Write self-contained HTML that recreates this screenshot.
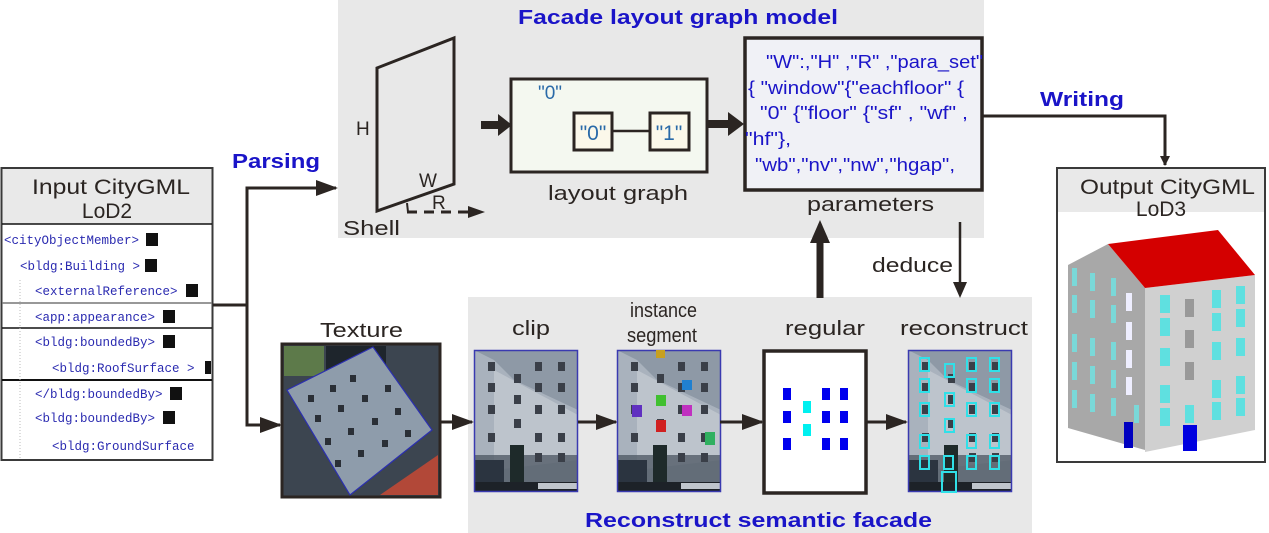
<!DOCTYPE html>
<html><head><meta charset="utf-8"><style>
html,body{margin:0;padding:0;background:#fff;}
svg{display:block;font-family:"Liberation Sans",sans-serif;}
.code{font-family:"Liberation Mono",monospace;font-size:12.5px;fill:#2a2ab0;}
.lf{fill:#111;}
</style></head><body>
<svg width="1269" height="533" viewBox="0 0 1269 533" xmlns="http://www.w3.org/2000/svg">
<defs>
<marker id="ah" markerWidth="10" markerHeight="10" refX="9" refY="5" orient="auto" markerUnits="userSpaceOnUse">
<path d="M0,0 L10,5 L0,10 Z" fill="#2b2522"/></marker>
<marker id="ahL" markerWidth="22" markerHeight="16" refX="20" refY="8" orient="auto" markerUnits="userSpaceOnUse">
<path d="M0,0 L22,8 L0,16 Z" fill="#2b2522"/></marker>
<g id="fac">
<rect x="0" y="0" width="104" height="142" fill="#a9b2bd"/>
<path d="M0,0 L104,0 L104,60 L40,30 L20,10 Z" fill="#8e99a6"/>
<path d="M20,20 L104,65 L104,110 L20,120Z" fill="#c6ccd3" opacity="0.7"/>
<rect x="0" y="105" width="104" height="37" fill="#4c5562" opacity="0.75"/>
<rect x="0" y="110" width="30" height="32" fill="#2b3440"/>
<rect x="36" y="95" width="14" height="40" fill="#1e2a2a"/>
<rect x="0" y="132" width="104" height="10" fill="#1d2228"/>
<rect x="64" y="133" width="40" height="6" fill="#bfc5cc"/>
<g fill="#3a3f48">
<rect x="14" y="12" width="7" height="9"/><rect x="61" y="12" width="7" height="9"/><rect x="84" y="12" width="7" height="9"/>
<rect x="40" y="24" width="7" height="9"/>
<rect x="14" y="33" width="7" height="9"/><rect x="61" y="33" width="7" height="9"/><rect x="84" y="33" width="7" height="9"/>
<rect x="40" y="45" width="7" height="9"/>
<rect x="14" y="55" width="7" height="9"/><rect x="61" y="55" width="7" height="9"/><rect x="84" y="55" width="7" height="9"/>
<rect x="40" y="69" width="7" height="9"/>
<rect x="14" y="83" width="7" height="9"/><rect x="61" y="83" width="7" height="9"/><rect x="84" y="83" width="7" height="9"/>
<rect x="61" y="103" width="7" height="9"/><rect x="84" y="103" width="7" height="9"/>
</g>
<rect x="0.5" y="0.5" width="103" height="141" fill="none" stroke="#3a3ab0" stroke-width="1.5"/>
</g>
</defs>

<rect x="338" y="0" width="646" height="238" fill="#e8e8e8"/>
<rect x="468" y="297" width="564" height="236" fill="#e8e8e8"/>

<text x="518" y="24" textLength="320" lengthAdjust="spacingAndGlyphs" font-size="20" font-weight="bold" fill="#1a14c8">Facade layout graph model</text>
<text x="585" y="527" textLength="347" lengthAdjust="spacingAndGlyphs" font-size="20" font-weight="bold" fill="#1a14c8">Reconstruct semantic facade</text>

<path d="M377,68 L454,38 L454,184 L377,211 Z" fill="none" stroke="#2b2522" stroke-width="3"/>
<text x="356" y="135" font-size="19" fill="#2b2522">H</text>
<text x="419" y="187" font-size="19" fill="#2b2522">W</text>
<text x="432" y="209" font-size="19" fill="#2b2522">R</text>
<line x1="407" y1="212" x2="470" y2="212" stroke="#2b2522" stroke-width="3" stroke-dasharray="10,7"/>
<path d="M468,206 L485,212 L468,218 Z" fill="#2b2522"/>
<path d="M407,203 L408,212" stroke="#2b2522" stroke-width="2"/>
<text x="343" y="235" textLength="57" lengthAdjust="spacingAndGlyphs" font-size="20" fill="#2b2522">Shell</text>

<line x1="481" y1="125" x2="500" y2="125" stroke="#2b2522" stroke-width="8"/>
<path d="M498,114 L512,125 L498,136 Z" fill="#2b2522"/>
<rect x="511" y="79" width="196" height="93" fill="#f4f8f0" stroke="#2b2522" stroke-width="3"/>
<text x="538" y="99" font-size="19" fill="#2a6aa8">"0"</text>
<rect x="574" y="113" width="38" height="37" fill="#fbf8ea" stroke="#2b2522" stroke-width="3"/>
<rect x="650" y="113" width="39" height="37" fill="#fbf8ea" stroke="#2b2522" stroke-width="3"/>
<line x1="612" y1="131" x2="650" y2="131" stroke="#2b2522" stroke-width="2.5"/>
<text x="593" y="140" text-anchor="middle" font-size="21" fill="#2a6aa8">"0"</text>
<text x="669" y="140" text-anchor="middle" font-size="21" fill="#2a6aa8">"1"</text>
<text x="548" y="200" textLength="140" lengthAdjust="spacingAndGlyphs" font-size="20" fill="#2b2522">layout graph</text>
<line x1="706" y1="124" x2="730" y2="124" stroke="#2b2522" stroke-width="8"/>
<path d="M728,112 L744,124 L728,136 Z" fill="#2b2522"/>

<rect x="745" y="38" width="237" height="152" fill="#f0f1f6" stroke="#2b2522" stroke-width="3.5"/>
<g font-size="18" fill="#1a14c8" lengthAdjust="spacingAndGlyphs">
<text x="766" y="68" textLength="217" lengthAdjust="spacingAndGlyphs">"W":,"H" ,"R" ,"para_set"</text>
<text x="748" y="94" textLength="216" lengthAdjust="spacingAndGlyphs">{ "window"{"eachfloor" {</text>
<text x="760" y="119" textLength="208" lengthAdjust="spacingAndGlyphs">"0" {"floor" {"sf" , "wf" ,</text>
<text x="745" y="145" textLength="46" lengthAdjust="spacingAndGlyphs">"hf"},</text>
<text x="755" y="171" textLength="200" lengthAdjust="spacingAndGlyphs">"wb","nv","nw","hgap",</text>
</g>
<text x="807" y="211" textLength="127" lengthAdjust="spacingAndGlyphs" font-size="20" fill="#2b2522">parameters</text>

<polyline points="982,116 1165,116 1165,165" fill="none" stroke="#2b2522" stroke-width="3" marker-end="url(#ah)"/>
<text x="1040" y="106" textLength="84" lengthAdjust="spacingAndGlyphs" font-size="20" font-weight="bold" fill="#1a14c8">Writing</text>

<line x1="820" y1="298" x2="820" y2="240" stroke="#2b2522" stroke-width="7"/>
<path d="M810,243 L820,220 L830,243 Z" fill="#2b2522"/>
<line x1="960" y1="222" x2="960" y2="288" stroke="#2b2522" stroke-width="2.5"/>
<path d="M953,282 L960,298 L967,282 Z" fill="#2b2522"/>
<text x="872" y="272" textLength="81" lengthAdjust="spacingAndGlyphs" font-size="20" fill="#2b2522">deduce</text>

<rect x="1.5" y="168" width="211" height="292" fill="#fff" stroke="#3a3a3a" stroke-width="2"/>
<rect x="2.5" y="169" width="209" height="55" fill="#e9e9e9"/>
<text x="32" y="194" textLength="158" lengthAdjust="spacingAndGlyphs" font-size="21" fill="#2b2522">Input CityGML</text>
<text x="107" y="218" text-anchor="middle" font-size="21" fill="#2b2522">LoD2</text>
<line x1="2" y1="224" x2="212" y2="224" stroke="#111" stroke-width="1.5"/>
<line x1="2" y1="303" x2="212" y2="303" stroke="#777" stroke-width="1.5"/>
<line x1="2" y1="328" x2="212" y2="328" stroke="#111" stroke-width="1.5"/>
<line x1="2" y1="380" x2="212" y2="380" stroke="#111" stroke-width="2"/>
<line x1="20" y1="280" x2="20" y2="460" stroke="#bbb" stroke-dasharray="1,2"/>
<g class="code">
<text x="4" y="244">&lt;cityObjectMember&gt;</text>
<text x="20" y="270">&lt;bldg:Building &gt;</text>
<text x="35" y="295">&lt;externalReference&gt;</text>
<text x="35" y="321">&lt;app:appearance&gt;</text>
<text x="35" y="346">&lt;bldg:boundedBy&gt;</text>
<text x="52" y="372">&lt;bldg:RoofSurface &gt;</text>
<text x="35" y="398">&lt;/bldg:boundedBy&gt;</text>
<text x="35" y="422">&lt;bldg:boundedBy&gt;</text>
<text x="52" y="450">&lt;bldg:GroundSurface</text>
</g>
<g class="lf">
<rect x="146" y="233" width="12" height="13"/><rect x="145" y="259" width="12" height="13"/>
<rect x="186" y="284" width="12" height="13"/><rect x="163" y="310" width="12" height="13"/>
<rect x="163" y="335" width="12" height="13"/><rect x="205" y="361" width="6" height="13"/>
<rect x="170" y="387" width="12" height="13"/><rect x="163" y="411" width="12" height="13"/>
</g>

<line x1="213" y1="305" x2="247" y2="305" stroke="#2b2522" stroke-width="3"/>
<polyline points="247,425 247,188 336,188" fill="none" stroke="#2b2522" stroke-width="3" marker-end="url(#ahL)"/>
<polyline points="247,300 247,425 280,425" fill="none" stroke="#2b2522" stroke-width="3" marker-end="url(#ahL)"/>
<text x="232" y="168" textLength="88" lengthAdjust="spacingAndGlyphs" font-size="20" font-weight="bold" fill="#1a14c8">Parsing</text>

<text x="320" y="337" textLength="83" lengthAdjust="spacingAndGlyphs" font-size="20" fill="#2b2522">Texture</text>
<rect x="282" y="344" width="158" height="153" fill="#3c4550" stroke="#2b2522" stroke-width="3"/>
<rect x="284" y="346" width="40" height="30" fill="#5d7a4a"/>
<rect x="326" y="346" width="60" height="40" fill="#1e252c"/>
<path d="M287,390 L373,347 L432,430 L350,495 Z" fill="#8e9cab"/>
<path d="M287,390 L373,347 L432,430 L350,495 Z" fill="none" stroke="#2b2fb0" stroke-width="1.2"/>
<path d="M380,495 L438,455 L438,495 Z" fill="#b24838"/>
<g fill="#2a2f36">
<rect x="308" y="395" width="6" height="7"/><rect x="330" y="385" width="6" height="7"/><rect x="350" y="375" width="6" height="7"/>
<rect x="315" y="415" width="6" height="7"/><rect x="338" y="405" width="6" height="7"/><rect x="362" y="395" width="6" height="7"/><rect x="385" y="385" width="6" height="7"/>
<rect x="325" y="438" width="6" height="7"/><rect x="348" y="428" width="6" height="7"/><rect x="372" y="418" width="6" height="7"/><rect x="395" y="408" width="6" height="7"/>
<rect x="335" y="460" width="6" height="7"/><rect x="358" y="450" width="6" height="7"/><rect x="382" y="440" width="6" height="7"/><rect x="405" y="430" width="6" height="7"/>
</g>
<line x1="440" y1="422" x2="472" y2="422" stroke="#2b2522" stroke-width="3" marker-end="url(#ahL)"/>

<text x="512" y="335" textLength="38" lengthAdjust="spacingAndGlyphs" font-size="20" fill="#2b2522">clip</text>
<use href="#fac" transform="translate(474,350)"/>
<line x1="578" y1="422" x2="616" y2="422" stroke="#2b2522" stroke-width="3" marker-end="url(#ahL)"/>

<text x="630" y="317" textLength="67" lengthAdjust="spacingAndGlyphs" font-size="20" fill="#2b2522">instance</text>
<text x="627" y="342" textLength="70" lengthAdjust="spacingAndGlyphs" font-size="20" fill="#2b2522">segment</text>
<use href="#fac" transform="translate(617,350)"/>
<rect x="656" y="350" width="9" height="8" fill="#c8a020"/>
<rect x="682" y="380" width="10" height="10" fill="#2080d0"/>
<rect x="656" y="395" width="10" height="11" fill="#40c030"/>
<rect x="632" y="405" width="10" height="12" fill="#6030c0"/>
<rect x="682" y="405" width="10" height="11" fill="#c030c0"/>
<rect x="656" y="420" width="10" height="12" fill="#d02020"/>
<rect x="705" y="432" width="10" height="13" fill="#30b060"/>
<line x1="720" y1="422" x2="762" y2="422" stroke="#2b2522" stroke-width="3" marker-end="url(#ahL)"/>

<text x="785" y="335" textLength="80" lengthAdjust="spacingAndGlyphs" font-size="20" fill="#2b2522">regular</text>
<rect x="764" y="351" width="102" height="142" fill="#fff" stroke="#2b2522" stroke-width="3.5"/>
<g fill="#0000ee">
<rect x="783" y="388" width="8" height="12"/><rect x="783" y="411" width="8" height="12"/><rect x="783" y="438" width="8" height="12"/>
<rect x="822" y="388" width="8" height="12"/><rect x="822" y="411" width="8" height="12"/><rect x="822" y="438" width="8" height="12"/>
<rect x="840" y="388" width="8" height="12"/><rect x="840" y="411" width="8" height="12"/><rect x="840" y="438" width="8" height="12"/>
</g>
<g fill="#00f0f0"><rect x="803" y="401" width="8" height="12"/><rect x="803" y="424" width="8" height="12"/></g>
<line x1="867" y1="422" x2="906" y2="422" stroke="#2b2522" stroke-width="3" marker-end="url(#ahL)"/>

<text x="900" y="335" textLength="128" lengthAdjust="spacingAndGlyphs" font-size="20" fill="#2b2522">reconstruct</text>
<use href="#fac" transform="translate(908,350)"/>
<g fill="none" stroke="#30e0e8" stroke-width="2">
<rect x="920" y="358" width="9" height="13"/><rect x="967" y="358" width="9" height="13"/><rect x="990" y="358" width="9" height="13"/>
<rect x="945" y="364" width="9" height="13"/>
<rect x="920" y="379" width="9" height="13"/><rect x="967" y="379" width="9" height="13"/><rect x="990" y="379" width="9" height="13"/>
<rect x="945" y="393" width="9" height="13"/>
<rect x="920" y="403" width="9" height="13"/><rect x="967" y="403" width="9" height="13"/><rect x="990" y="403" width="9" height="13"/>
<rect x="945" y="419" width="9" height="13"/>
<rect x="920" y="435" width="9" height="13"/><rect x="967" y="435" width="9" height="13"/><rect x="990" y="435" width="9" height="13"/>
<rect x="920" y="456" width="9" height="13"/><rect x="944" y="456" width="9" height="13"/><rect x="967" y="456" width="9" height="13"/><rect x="990" y="456" width="9" height="13"/>
<rect x="942" y="472" width="14" height="20"/>
</g>

<rect x="1057" y="168" width="208" height="294" fill="#fff" stroke="#3a3a3a" stroke-width="2"/>
<rect x="1058" y="169" width="206" height="43" fill="#e9e9e9"/>
<text x="1080" y="194" textLength="175" lengthAdjust="spacingAndGlyphs" font-size="21" fill="#2b2522">Output CityGML</text>
<text x="1161" y="216" text-anchor="middle" font-size="21" fill="#2b2522">LoD3</text>
<path d="M1068,265 L1108,244 L1145,288 L1145,450 L1068,428 Z" fill="#a8a8a8"/>
<path d="M1145,288 L1255,275 L1255,430 L1145,452 Z" fill="#d0d0d0"/>
<path d="M1108,244 L1218,230 L1255,275 L1145,288 Z" fill="#d40000"/>
<g fill="#7ad8d8">
<rect x="1072" y="268" width="5" height="18"/><rect x="1090" y="273" width="5" height="18"/><rect x="1111" y="278" width="5" height="18"/>
<rect x="1072" y="295" width="5" height="18"/><rect x="1090" y="300" width="5" height="18"/><rect x="1111" y="305" width="5" height="18"/>
<rect x="1072" y="334" width="5" height="18"/><rect x="1090" y="338" width="5" height="18"/><rect x="1111" y="342" width="5" height="18"/>
<rect x="1072" y="362" width="5" height="18"/><rect x="1090" y="366" width="5" height="18"/><rect x="1111" y="370" width="5" height="18"/>
<rect x="1072" y="390" width="5" height="18"/><rect x="1090" y="394" width="5" height="18"/><rect x="1111" y="398" width="5" height="18"/><rect x="1134" y="405" width="5" height="18"/>
</g>
<g fill="#eef"><rect x="1126" y="293" width="6" height="18"/><rect x="1126" y="322" width="6" height="18"/><rect x="1126" y="350" width="6" height="18"/><rect x="1126" y="377" width="6" height="18"/></g>
<g fill="#5fe0e0">
<rect x="1160" y="295" width="10" height="18"/><rect x="1212" y="290" width="9" height="18"/><rect x="1236" y="286" width="9" height="18"/>
<rect x="1160" y="318" width="10" height="18"/><rect x="1212" y="313" width="9" height="18"/><rect x="1236" y="309" width="9" height="18"/>
<rect x="1160" y="348" width="10" height="18"/><rect x="1212" y="342" width="9" height="18"/><rect x="1236" y="338" width="9" height="18"/>
<rect x="1160" y="385" width="10" height="18"/><rect x="1212" y="380" width="9" height="18"/><rect x="1236" y="376" width="9" height="18"/>
<rect x="1160" y="408" width="10" height="18"/><rect x="1185" y="405" width="9" height="18"/><rect x="1212" y="402" width="9" height="18"/><rect x="1236" y="398" width="9" height="18"/>
</g>
<g fill="#999"><rect x="1185" y="299" width="9" height="18"/><rect x="1185" y="330" width="9" height="18"/><rect x="1185" y="362" width="9" height="18"/></g>
<rect x="1124" y="422" width="9" height="26" fill="#0000c0"/>
<rect x="1183" y="425" width="14" height="26" fill="#0000e0"/>
</svg>
</body></html>
